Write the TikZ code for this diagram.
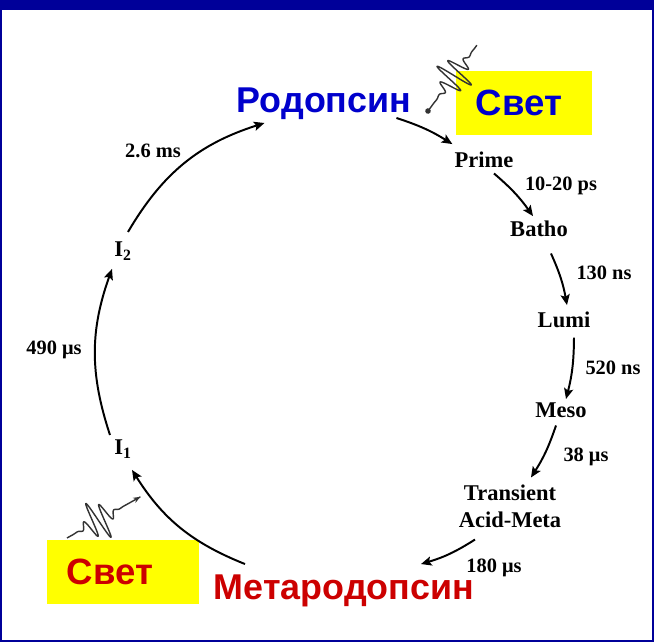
\documentclass[tikz,border=0pt]{standalone}
\usepackage{fontspec}
\setmainfont{Liberation Serif}
\newfontfamily\rusfont{Liberation Sans}
\usetikzlibrary{arrows.meta, calc}

\definecolor{frameblue}{RGB}{0,0,153}
\definecolor{rhodblue}{RGB}{0,0,204}
\definecolor{metared}{RGB}{204,0,0}
\definecolor{lightyellow}{RGB}{255,255,0}

\begin{document}
\begin{tikzpicture}[
    x=0.025cm, y=-0.025cm,
    state/.style={font=\fontsize{16}{19}\selectfont\bfseries, anchor=base, inner sep=0.05cm},
    delay/.style={font=\fontsize{14.5}{17}\selectfont\bfseries, anchor=base, inner sep=0.05cm},
    pigment/.style={font=\rusfont\fontsize{25.5}{30}\selectfont\bfseries, anchor=base, inner sep=0.05cm},
    lightbox/.style={fill=lightyellow, font=\rusfont\fontsize{26}{30}\selectfont\bfseries, minimum height=1.6cm, align=left, inner xsep=0.5cm},
    cyclearrow/.style={-{Stealth[length=7.5pt,width=6.5pt,inset=1.5pt]}, line width=1.4pt},
    wave/.style={line width=1pt, black!80, line join=round}
]

    % Frame
    \useasboundingbox (0,0) rectangle (654,642);
    \fill[frameblue] (0,0) rectangle (654,642);
    \fill[white] (2,10) rectangle (652,640);

    % Pigments and light
    \node[pigment, text=rhodblue] (rhod) at (324,113) {Родопсин};
    \node[pigment, text=metared] (meta) at (344,600) {Метародопсин};
    \node[lightbox, text=rhodblue, text width=2.4cm] (lighttop) at (524,103) {Свет};
    \node[lightbox, text=metared, text width=2.8cm] (lightbot) at (123,572) {Свет};

    % Intermediates
    \node[state] (prime) at (484,168) {Prime};
    \node[state] (batho) at (539,237) {Batho};
    \node[state] (lumi) at (564,328) {Lumi};
    \node[state] (meso) at (561,418) {Meso};
    \node[state, align=center, anchor=center] (trans) at (510,506) {Transient\\Acid-Meta};
    \node[state] (i1) at (123,455) {I\textsubscript{1}};
    \node[state] (i2) at (123,257) {I\textsubscript{2}};

    % Time constants
    \node[delay] (d1) at (561,191) {10-20 ps};
    \node[delay] (d2) at (604,280) {130 ns};
    \node[delay] (d3) at (613,375) {520 ns};
    \node[delay] (d4) at (586,462) {38 μs};
    \node[delay] (d5) at (494,573) {180 μs};
    \node[delay] (d6) at (54,355) {490 μs};
    \node[delay] (d7) at (153,158) {2.6 ms};

    % Cycle arrows
    \draw[cyclearrow] ($(rhod.base east)+(-17,5)$) to[bend left=7] ($(prime.north west)+(0,-6)$);
    \draw[cyclearrow] ($(prime.south)+(10,3)$) to[bend left=7] ($(batho.north)+(-6,-3)$);
    \draw[cyclearrow] ($(batho.south)+(12,14)$) to[bend left=7] ($(lumi.north)+(3,-5)$);
    \draw[cyclearrow] ($(lumi.south)+(10,7)$) to[bend left=7] ($(meso.north)+(5,-2)$);
    \draw[cyclearrow] ($(meso.south)+(-5,5)$) to[bend left=7] ($(trans.north)+(21,-5)$);
    \draw[cyclearrow] ($(trans.south)+(-35,10)$) to[bend left=8] ($(meta.north)+(77,-9)$);
    \draw[cyclearrow] ($(meta.north)+(-99,-9)$) to[bend left=18] ($(i1.south)+(9,9)$);
    \draw[cyclearrow] ($(i1.north)+(-13,-3)$) to[bend left=19] ($(i2.south)+(-11,6)$);
    \draw[cyclearrow] ($(i2.north)+(5,-8)$) to[bend left=21] ($(rhod.base west)+(30,10)$);

    % Light waves
    \begin{scope}[shift={(428,111)}, rotate=53.4]
        \draw[wave] plot[domain=0:82, samples=400] (\x, {20*exp(-((\x-44)/14)*((\x-44)/14))*sin(32*(\x-44))});
        \fill[black!80] (0,0) circle (0.07cm);
    \end{scope}
    \begin{scope}[shift={(67,538)}, rotate=29.3]
        \draw[wave, -{Stealth[length=5pt,width=4pt]}] plot[domain=0:84, samples=400] (\x, {22*exp(-((\x-36)/12)*((\x-36)/12))*sin(32*(\x-36))});
    \end{scope}

\end{tikzpicture}
\end{document}
